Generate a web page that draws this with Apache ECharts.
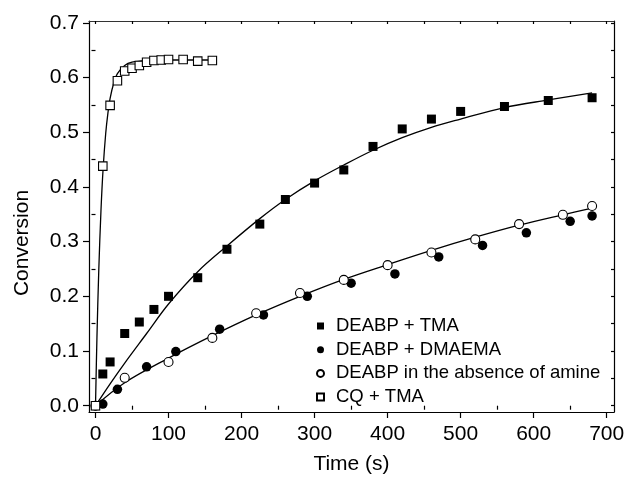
<!DOCTYPE html>
<html>
<head>
<meta charset="utf-8">
<script src="https://cdn.jsdelivr.net/npm/echarts@6/dist/echarts.min.js"></script>
<style>html,body{margin:0;padding:0;background:#fff;}#c{width:624px;height:477px;}</style>
</head>
<body>
<div id="c"></div>
<script>
// ---- data ----
const tmaTime = [0, 10, 20, 40, 60, 80, 100, 140, 180, 225, 260, 300, 340, 380, 420, 460, 500, 560, 620, 680];
const tmaConv = [0, 0.058, 0.080, 0.132, 0.153, 0.176, 0.200, 0.234, 0.286, 0.332, 0.377, 0.407, 0.431, 0.474, 0.506, 0.524, 0.538, 0.547, 0.558, 0.563];

const dmaemaTime = [0, 10, 30, 70, 110, 170, 230, 290, 350, 410, 470, 530, 590, 650, 680];
const dmaemaConv = [0, 0.003, 0.030, 0.071, 0.099, 0.140, 0.166, 0.200, 0.224, 0.241, 0.272, 0.293, 0.316, 0.337, 0.347];

const noAmineTime = [0, 40, 100, 160, 220, 280, 340, 400, 460, 520, 580, 640, 680];
const noAmineConv = [0, 0.051, 0.080, 0.124, 0.169, 0.206, 0.230, 0.257, 0.280, 0.304, 0.332, 0.349, 0.365];

const cqTime = [0, 10, 20, 30, 40, 50, 60, 70, 80, 90, 100, 120, 140, 160];
const cqConv = [0, 0.438, 0.549, 0.594, 0.612, 0.617, 0.622, 0.628, 0.631, 0.632, 0.633, 0.633, 0.630, 0.631];

// fitted curves
const tmaFitTime = [0, 20, 40, 70, 100, 140, 180, 225, 260, 300, 340, 380, 420, 460, 500, 560, 620, 680];
const tmaFitConv = [0, 0.040, 0.078, 0.132, 0.186, 0.245, 0.292, 0.342, 0.377, 0.411, 0.440, 0.467, 0.490, 0.509, 0.524, 0.545, 0.559, 0.572];

const lowFitTime = [0, 40, 100, 160, 220, 280, 340, 400, 460, 520, 580, 640, 680];
const lowFitConv = [0, 0.042, 0.087, 0.128, 0.166, 0.200, 0.231, 0.258, 0.284, 0.308, 0.330, 0.349, 0.361];

const cqFitTime = [0, 2, 4.5, 7.5, 10.5, 14, 17, 20, 25, 30, 40, 50, 70, 100, 160];
const cqFitConv = [0, 0.126, 0.248, 0.357, 0.435, 0.498, 0.535, 0.562, 0.590, 0.607, 0.622, 0.628, 0.631, 0.632, 0.632];

const seriesNames = ['DEABP + TMA', 'DEABP + DMAEMA', 'DEABP in the absence of amine', 'CQ + TMA'];

const xMajorTicks = [0, 100, 200, 300, 400, 500, 600, 700];
const xMinorTicks = [50, 150, 250, 350, 450, 550, 650];
const xTopTicks = [0, 50, 100, 150, 200, 250, 300, 350, 400, 450, 500, 550, 600, 650, 700];
const yMajorTicks = [0, 0.1, 0.2, 0.3, 0.4, 0.5, 0.6, 0.7];
const yMinorTicks = [0.05, 0.15, 0.25, 0.35, 0.45, 0.55, 0.65];
const yRightTicks = [0, 0.05, 0.1, 0.15, 0.2, 0.25, 0.3, 0.35, 0.4, 0.45, 0.5, 0.55, 0.6, 0.65, 0.7];

// ---- chart ----
const zip = (a, b) => a.map((v, i) => [v, b[i]]);
const FONT = "'Liberation Sans', Arial, Helvetica, sans-serif";
const XMIN = -8.9, XMAX = 710, YMIN = -0.0115, YMAX = 0.7033;

function xAx(extra) {
  return Object.assign({
    type: 'value', min: XMIN, max: XMAX, splitLine: { show: false },
    axisLine: { show: false }, axisTick: { show: false }, axisLabel: { show: false }
  }, extra);
}
function yAx(extra) {
  return Object.assign({
    type: 'value', min: YMIN, max: YMAX, splitLine: { show: false },
    axisLine: { show: false }, axisTick: { show: false }, axisLabel: { show: false }
  }, extra);
}
const lineStyleAx = { color: '#000', width: 1.2 };
const fitLine = { color: '#000', width: 1.3 };

const chart = echarts.init(document.getElementById('c'), null, { renderer: 'canvas' });
chart.setOption({
  animation: false,
  backgroundColor: '#fff',
  textStyle: { fontFamily: FONT },
  grid: { left: 89, top: 21, right: 10, bottom: 65, containLabel: false, outerBoundsMode: 'none' },
  xAxis: [
    xAx({
      position: 'bottom',
      axisLine: { show: true, onZero: false, lineStyle: lineStyleAx },
      axisTick: { show: true, customValues: xMajorTicks, length: 6, lineStyle: lineStyleAx },
      axisLabel: { show: true, customValues: xMajorTicks, fontSize: 21, color: '#000', margin: 12, fontFamily: FONT },
      name: 'Time (s)', nameLocation: 'middle', nameGap: 42,
      nameTextStyle: { fontSize: 21, color: '#000', fontFamily: FONT }
    }),
    xAx({
      position: 'bottom',
      axisTick: { show: true, customValues: xMinorTicks, length: 4, lineStyle: lineStyleAx }
    }),
    xAx({
      position: 'top',
      axisLine: { show: true, onZero: false, lineStyle: { color: '#333', width: 1.2 } },
      axisTick: { show: true, inside: true, customValues: xTopTicks, length: 3, lineStyle: lineStyleAx }
    })
  ],
  yAxis: [
    yAx({
      position: 'left',
      axisLine: { show: true, onZero: false, lineStyle: lineStyleAx },
      axisTick: { show: true, customValues: yMajorTicks, length: 6, lineStyle: lineStyleAx },
      axisLabel: { show: true, customValues: yMajorTicks, fontSize: 21, color: '#000', margin: 10, fontFamily: FONT,
        formatter: v => v.toFixed(1) }
    }),
    yAx({
      position: 'left',
      axisTick: { show: true, customValues: yMinorTicks, length: 4, lineStyle: lineStyleAx }
    }),
    yAx({
      position: 'right',
      axisLine: { show: true, onZero: false, lineStyle: lineStyleAx },
      axisTick: { show: true, inside: true, customValues: yRightTicks, length: 3, lineStyle: lineStyleAx }
    })
  ],
  graphic: [{
    type: 'text', x: 22, y: 243, rotation: Math.PI / 2,
    style: { text: 'Conversion', fontSize: 21, fill: '#000', fontFamily: FONT, textAlign: 'center', textVerticalAlign: 'middle' }
  }],
  legend: {
    orient: 'vertical', left: 311, top: 311,
    itemWidth: 7, itemHeight: 7, itemGap: 3.7,
    data: seriesNames,
    textStyle: { fontSize: 18.5, color: '#000', fontFamily: FONT, lineHeight: 20, padding: [0, 0, 0, 7] }
  },
  series: [
    { type: 'line', data: zip(tmaFitTime, tmaFitConv), smooth: 0.35, showSymbol: false, symbol: 'none',
      lineStyle: fitLine, silent: true, z: 1 },
    { type: 'line', data: zip(lowFitTime, lowFitConv), smooth: 0.35, showSymbol: false, symbol: 'none',
      lineStyle: fitLine, silent: true, z: 1 },
    { type: 'line', data: zip(cqFitTime, cqFitConv), smooth: 0.35, showSymbol: false, symbol: 'none',
      lineStyle: fitLine, silent: true, z: 1 },
    { name: seriesNames[0], type: 'scatter', data: zip(tmaTime, tmaConv), symbol: 'rect', symbolSize: 9,
      itemStyle: { color: '#000', opacity: 1 }, z: 3 },
    { name: seriesNames[1], type: 'scatter', data: zip(dmaemaTime, dmaemaConv), symbol: 'circle', symbolSize: 9.5,
      itemStyle: { color: '#000', opacity: 1 }, z: 3 },
    { name: seriesNames[2], type: 'scatter', data: zip(noAmineTime, noAmineConv), symbol: 'circle', symbolSize: 9,
      itemStyle: { color: '#fff', borderColor: '#000', borderWidth: 1.1, opacity: 1 }, z: 4 },
    { name: seriesNames[3], type: 'scatter', data: zip(cqTime, cqConv), symbol: 'rect', symbolSize: 8.5,
      itemStyle: { color: '#fff', borderColor: '#000', borderWidth: 1.1, opacity: 1 }, z: 4 }
  ]
});
</script>
</body>
</html>
